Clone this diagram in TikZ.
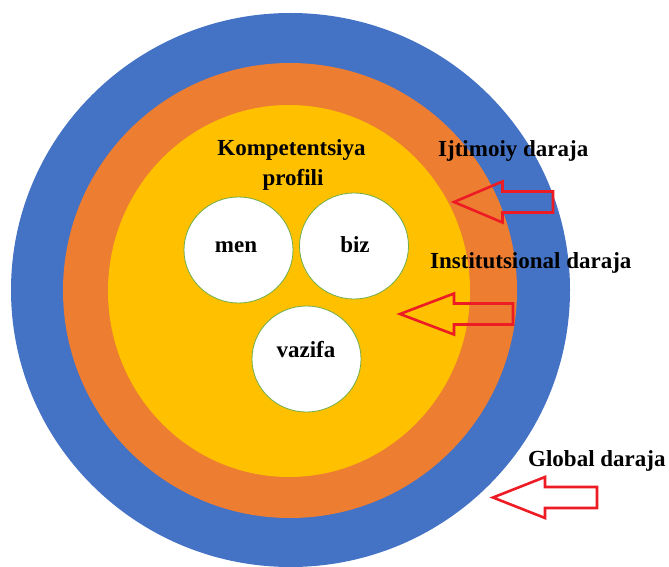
\documentclass[tikz,border=0pt]{standalone}
\usepackage{fontspec}
\setmainfont{Liberation Serif}
\usetikzlibrary{shapes.geometric}
\definecolor{cblue}{RGB}{68,114,196}
\definecolor{corange}{RGB}{237,125,49}
\definecolor{cyellow}{RGB}{255,192,0}
\definecolor{cgreen}{RGB}{112,173,71}
\definecolor{cred}{RGB}{237,28,36}
\newcommand\redarrow[5]{%
  \coordinate (#5) at (#1,#2);
  \draw[blockarrow] (#5) -- ({#3},{#2-20.5}) -- ({#3},{#2-10.5}) -- ({#4},{#2-10.5})
    -- ({#4},{#2+10.5}) -- ({#3},{#2+10.5}) -- ({#3},{#2+20.5}) -- cycle;}
\begin{document}
\begin{tikzpicture}[x=1pt,y=-1pt,
  ring/.style={ellipse, inner sep=0pt, draw=none},
  bubble/.style={ellipse, inner sep=0pt, fill=white, draw=cgreen, line width=0.8pt,
    minimum width=109pt, minimum height=106pt},
  lbl/.style={font=\fontsize{23}{28}\selectfont\bfseries, inner sep=0pt},
  blockarrow/.style={draw=cred, line width=2.6pt, line join=miter}]
\useasboundingbox (0,0) rectangle (669,567);
\node[ring, fill=cblue, minimum width=559pt, minimum height=554pt] (global) at (290.5,290) {};
\node[ring, fill=corange, minimum width=454pt, minimum height=455pt] (inst) at (290,290.5) {};
\node[ring, fill=cyellow, minimum width=362pt, minimum height=372pt] (ijt) at (289,291) {};
\node[bubble] (men) at (238.5,250) {};
\node[bubble] (biz) at (354,246) {};
\node[bubble] (vazifa) at (306.5,359) {};
\node[lbl, anchor=base] (tmen) at (236,252) {men};
\node[lbl, anchor=base] (tbiz) at (355,252) {biz};
\node[lbl, anchor=base] (tvazifa) at (306,357) {vazifa};
\node[lbl, anchor=base] (komp) at (291.5,155) {Kompetentsiya};
\node[lbl, anchor=base] (prof) at (293,185) {profili};
\node[lbl, anchor=base west] (lijt) at (438,157) {Ijtimoiy daraja};
\node[lbl, anchor=base west] (linst) at (430,268) {Institutsional daraja};
\node[lbl, anchor=base west] (lglob) at (528,466) {Global daraja};
\redarrow{454}{202}{502.5}{553}{a1}
\redarrow{400}{314}{454}{513}{a2}
\redarrow{493}{497.5}{545}{597}{a3}
\end{tikzpicture}
\end{document}
